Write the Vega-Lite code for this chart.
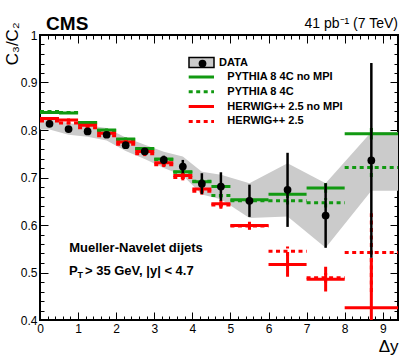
{
  "$schema": "https://vega.github.io/schema/vega-lite/v6.json",
  "width": 358,
  "height": 285,
  "autosize": {"type": "none"},
  "padding": {"left": 40, "top": 35, "right": 9, "bottom": 36},
  "background": "white",
  "datasets": {
    "band": [
      {"x": 0, "lo": 0.801, "hi": 0.825},
      {"x": 0.25, "lo": 0.801, "hi": 0.825},
      {"x": 0.75, "lo": 0.790, "hi": 0.814},
      {"x": 1.25, "lo": 0.786, "hi": 0.810},
      {"x": 1.75, "lo": 0.778, "hi": 0.804},
      {"x": 2.25, "lo": 0.756, "hi": 0.784},
      {"x": 2.75, "lo": 0.739, "hi": 0.769},
      {"x": 3.25, "lo": 0.720, "hi": 0.754},
      {"x": 3.75, "lo": 0.704, "hi": 0.744},
      {"x": 4.25, "lo": 0.664, "hi": 0.712},
      {"x": 4.75, "lo": 0.654, "hi": 0.706},
      {"x": 5.5, "lo": 0.615, "hi": 0.688},
      {"x": 6.5, "lo": 0.618, "hi": 0.730},
      {"x": 7.5, "lo": 0.552, "hi": 0.688},
      {"x": 8.7, "lo": 0.672, "hi": 0.796},
      {"x": 9.4, "lo": 0.672, "hi": 0.796}
    ],
    "data": [
      {"x": 0.25, "y": 0.813, "lo": 0.809, "hi": 0.817},
      {"x": 0.75, "y": 0.802, "lo": 0.798, "hi": 0.806},
      {"x": 1.25, "y": 0.797, "lo": 0.793, "hi": 0.801},
      {"x": 1.75, "y": 0.790, "lo": 0.786, "hi": 0.794},
      {"x": 2.25, "y": 0.768, "lo": 0.763, "hi": 0.773},
      {"x": 2.75, "y": 0.755, "lo": 0.749, "hi": 0.761},
      {"x": 3.25, "y": 0.737, "lo": 0.728, "hi": 0.746},
      {"x": 3.75, "y": 0.723, "lo": 0.709, "hi": 0.737},
      {"x": 4.25, "y": 0.687, "lo": 0.665, "hi": 0.709},
      {"x": 4.75, "y": 0.681, "lo": 0.651, "hi": 0.711},
      {"x": 5.5, "y": 0.651, "lo": 0.617, "hi": 0.685},
      {"x": 6.5, "y": 0.674, "lo": 0.596, "hi": 0.752},
      {"x": 7.5, "y": 0.620, "lo": 0.552, "hi": 0.688},
      {"x": 8.7, "y": 0.736, "lo": 0.531, "hi": 0.941}
    ],
    "mc": [
      {"s": "PYTHIA 8 4C no MPI", "a": 0, "b": 0.5, "c": 0.25, "v": 0.837, "lo": 0.835, "hi": 0.839},
      {"s": "PYTHIA 8 4C no MPI", "a": 0.5, "b": 1, "c": 0.75, "v": 0.836, "lo": 0.834, "hi": 0.838},
      {"s": "PYTHIA 8 4C no MPI", "a": 1, "b": 1.5, "c": 1.25, "v": 0.816, "lo": 0.814, "hi": 0.818},
      {"s": "PYTHIA 8 4C no MPI", "a": 1.5, "b": 2, "c": 1.75, "v": 0.800, "lo": 0.797, "hi": 0.803},
      {"s": "PYTHIA 8 4C no MPI", "a": 2, "b": 2.5, "c": 2.25, "v": 0.781, "lo": 0.778, "hi": 0.784},
      {"s": "PYTHIA 8 4C no MPI", "a": 2.5, "b": 3, "c": 2.75, "v": 0.761, "lo": 0.758, "hi": 0.764},
      {"s": "PYTHIA 8 4C no MPI", "a": 3, "b": 3.5, "c": 3.25, "v": 0.739, "lo": 0.735, "hi": 0.743},
      {"s": "PYTHIA 8 4C no MPI", "a": 3.5, "b": 4, "c": 3.75, "v": 0.712, "lo": 0.708, "hi": 0.716},
      {"s": "PYTHIA 8 4C no MPI", "a": 4, "b": 4.5, "c": 4.25, "v": 0.691, "lo": 0.686, "hi": 0.696},
      {"s": "PYTHIA 8 4C no MPI", "a": 4.5, "b": 5, "c": 4.75, "v": 0.681, "lo": 0.675, "hi": 0.687},
      {"s": "PYTHIA 8 4C no MPI", "a": 5, "b": 6, "c": 5.5, "v": 0.653, "lo": 0.647, "hi": 0.659},
      {"s": "PYTHIA 8 4C no MPI", "a": 6, "b": 7, "c": 6.5, "v": 0.665, "lo": 0.657, "hi": 0.673},
      {"s": "PYTHIA 8 4C no MPI", "a": 7, "b": 8, "c": 7.5, "v": 0.678, "lo": 0.668, "hi": 0.688},
      {"s": "PYTHIA 8 4C no MPI", "a": 8, "b": 9.4, "c": 8.7, "v": 0.792, "lo": 0.780, "hi": 0.804},
      {"s": "PYTHIA 8 4C", "a": 0, "b": 0.5, "c": 0.25, "v": 0.839, "lo": 0.837, "hi": 0.841},
      {"s": "PYTHIA 8 4C", "a": 0.5, "b": 1, "c": 0.75, "v": 0.837, "lo": 0.835, "hi": 0.839},
      {"s": "PYTHIA 8 4C", "a": 1, "b": 1.5, "c": 1.25, "v": 0.815, "lo": 0.813, "hi": 0.817},
      {"s": "PYTHIA 8 4C", "a": 1.5, "b": 2, "c": 1.75, "v": 0.799, "lo": 0.796, "hi": 0.802},
      {"s": "PYTHIA 8 4C", "a": 2, "b": 2.5, "c": 2.25, "v": 0.780, "lo": 0.777, "hi": 0.783},
      {"s": "PYTHIA 8 4C", "a": 2.5, "b": 3, "c": 2.75, "v": 0.760, "lo": 0.757, "hi": 0.763},
      {"s": "PYTHIA 8 4C", "a": 3, "b": 3.5, "c": 3.25, "v": 0.738, "lo": 0.734, "hi": 0.742},
      {"s": "PYTHIA 8 4C", "a": 3.5, "b": 4, "c": 3.75, "v": 0.711, "lo": 0.707, "hi": 0.715},
      {"s": "PYTHIA 8 4C", "a": 4, "b": 4.5, "c": 4.25, "v": 0.692, "lo": 0.687, "hi": 0.697},
      {"s": "PYTHIA 8 4C", "a": 4.5, "b": 5, "c": 4.75, "v": 0.662, "lo": 0.656, "hi": 0.668},
      {"s": "PYTHIA 8 4C", "a": 5, "b": 6, "c": 5.5, "v": 0.651, "lo": 0.645, "hi": 0.657},
      {"s": "PYTHIA 8 4C", "a": 6, "b": 7, "c": 6.5, "v": 0.651, "lo": 0.643, "hi": 0.659},
      {"s": "PYTHIA 8 4C", "a": 7, "b": 8, "c": 7.5, "v": 0.647, "lo": 0.637, "hi": 0.657},
      {"s": "PYTHIA 8 4C", "a": 8, "b": 9.4, "c": 8.7, "v": 0.721, "lo": 0.701, "hi": 0.741},
      {"s": "HERWIG++ 2.5 no MPI", "a": 0, "b": 0.5, "c": 0.25, "v": 0.824, "lo": 0.821, "hi": 0.827},
      {"s": "HERWIG++ 2.5 no MPI", "a": 0.5, "b": 1, "c": 0.75, "v": 0.821, "lo": 0.818, "hi": 0.824},
      {"s": "HERWIG++ 2.5 no MPI", "a": 1, "b": 1.5, "c": 1.25, "v": 0.810, "lo": 0.807, "hi": 0.813},
      {"s": "HERWIG++ 2.5 no MPI", "a": 1.5, "b": 2, "c": 1.75, "v": 0.793, "lo": 0.789, "hi": 0.797},
      {"s": "HERWIG++ 2.5 no MPI", "a": 2, "b": 2.5, "c": 2.25, "v": 0.775, "lo": 0.771, "hi": 0.779},
      {"s": "HERWIG++ 2.5 no MPI", "a": 2.5, "b": 3, "c": 2.75, "v": 0.755, "lo": 0.750, "hi": 0.760},
      {"s": "HERWIG++ 2.5 no MPI", "a": 3, "b": 3.5, "c": 3.25, "v": 0.731, "lo": 0.726, "hi": 0.736},
      {"s": "HERWIG++ 2.5 no MPI", "a": 3.5, "b": 4, "c": 3.75, "v": 0.704, "lo": 0.698, "hi": 0.710},
      {"s": "HERWIG++ 2.5 no MPI", "a": 4, "b": 4.5, "c": 4.25, "v": 0.676, "lo": 0.669, "hi": 0.683},
      {"s": "HERWIG++ 2.5 no MPI", "a": 4.5, "b": 5, "c": 4.75, "v": 0.645, "lo": 0.637, "hi": 0.653},
      {"s": "HERWIG++ 2.5 no MPI", "a": 5, "b": 6, "c": 5.5, "v": 0.599, "lo": 0.591, "hi": 0.607},
      {"s": "HERWIG++ 2.5 no MPI", "a": 6, "b": 7, "c": 6.5, "v": 0.517, "lo": 0.491, "hi": 0.543},
      {"s": "HERWIG++ 2.5 no MPI", "a": 7, "b": 8, "c": 7.5, "v": 0.486, "lo": 0.460, "hi": 0.512},
      {"s": "HERWIG++ 2.5 no MPI", "a": 8, "b": 9.4, "c": 8.7, "v": 0.426, "lo": 0.321, "hi": 0.531},
      {"s": "HERWIG++ 2.5", "a": 0, "b": 0.5, "c": 0.25, "v": 0.819, "lo": 0.816, "hi": 0.822},
      {"s": "HERWIG++ 2.5", "a": 0.5, "b": 1, "c": 0.75, "v": 0.815, "lo": 0.812, "hi": 0.818},
      {"s": "HERWIG++ 2.5", "a": 1, "b": 1.5, "c": 1.25, "v": 0.805, "lo": 0.802, "hi": 0.808},
      {"s": "HERWIG++ 2.5", "a": 1.5, "b": 2, "c": 1.75, "v": 0.788, "lo": 0.784, "hi": 0.792},
      {"s": "HERWIG++ 2.5", "a": 2, "b": 2.5, "c": 2.25, "v": 0.770, "lo": 0.766, "hi": 0.774},
      {"s": "HERWIG++ 2.5", "a": 2.5, "b": 3, "c": 2.75, "v": 0.750, "lo": 0.745, "hi": 0.755},
      {"s": "HERWIG++ 2.5", "a": 3, "b": 3.5, "c": 3.25, "v": 0.727, "lo": 0.722, "hi": 0.732},
      {"s": "HERWIG++ 2.5", "a": 3.5, "b": 4, "c": 3.75, "v": 0.700, "lo": 0.694, "hi": 0.706},
      {"s": "HERWIG++ 2.5", "a": 4, "b": 4.5, "c": 4.25, "v": 0.671, "lo": 0.664, "hi": 0.678},
      {"s": "HERWIG++ 2.5", "a": 4.5, "b": 5, "c": 4.75, "v": 0.642, "lo": 0.634, "hi": 0.650},
      {"s": "HERWIG++ 2.5", "a": 5, "b": 6, "c": 5.5, "v": 0.598, "lo": 0.590, "hi": 0.606},
      {"s": "HERWIG++ 2.5", "a": 6, "b": 7, "c": 6.5, "v": 0.545, "lo": 0.535, "hi": 0.555},
      {"s": "HERWIG++ 2.5", "a": 7, "b": 8, "c": 7.5, "v": 0.489, "lo": 0.479, "hi": 0.499},
      {"s": "HERWIG++ 2.5", "a": 8, "b": 9.4, "c": 8.7, "v": 0.542, "lo": 0.459, "hi": 0.625}
    ]
  },
  "resolve": {"axis": {"x": "independent", "y": "independent"}},
  "layer": [
    {
      "data": {"name": "band"},
      "mark": {"type": "area", "fill": "#cbcbcb"},
      "encoding": {
        "x": {
          "field": "x", "type": "quantitative",
          "scale": {"domain": [0, 9.4], "nice": false, "zero": false},
          "axis": {
            "orient": "bottom",
            "values": [0,0.2,0.4,0.6,0.8,1,1.2,1.4,1.6,1.8,2,2.2,2.4,2.6,2.8,3,3.2,3.4,3.6,3.8,4,4.2,4.4,4.6,4.8,5,5.2,5.4,5.6,5.8,6,6.2,6.4,6.6,6.8,7,7.2,7.4,7.6,7.8,8,8.2,8.4,8.6,8.8,9,9.2],
            "domain": false, "grid": false,
            "tickColor": "black", "tickWidth": 1,
            "tickSize": {"condition": {"test": "abs(datum.value-round(datum.value))<1e-6", "value": -8}, "value": -4},
            "labelExpr": "abs(datum.value-round(datum.value))<1e-6 ? format(datum.value,'d') : ''",
            "labelFont": "Liberation Sans", "labelFontSize": 12, "labelColor": "black",
            "labelPadding": 11, "labelOverlap": false, "labelFlush": false, "labelBaseline": "top",
            "title": "Δy", "titleFont": "Liberation Sans", "titleFontSize": 17, "titleFontWeight": "normal",
            "titleColor": "black", "titleAlign": "right", "titleX": 358, "titleY": 31, "titleBaseline": "alphabetic"
          }
        },
        "y": {
          "field": "lo", "type": "quantitative",
          "scale": {"domain": [0.4, 1], "nice": false, "zero": false},
          "axis": {
            "orient": "left",
            "values": [0.4,0.42,0.44,0.46,0.48,0.5,0.52,0.54,0.56,0.58,0.6,0.62,0.64,0.66,0.68,0.7,0.72,0.74,0.76,0.78,0.8,0.82,0.84,0.86,0.88,0.9,0.92,0.94,0.96,0.98,1],
            "domain": false, "grid": false,
            "tickColor": "black", "tickWidth": 1,
            "tickSize": {"condition": {"test": "abs(datum.value*10-round(datum.value*10))<1e-6", "value": -8}, "value": -4},
            "labelExpr": "abs(datum.value*10-round(datum.value*10))<1e-6 ? format(datum.value,'~g') : ''",
            "labelFont": "Liberation Sans", "labelFontSize": 12, "labelColor": "black",
            "labelPadding": 11, "labelOverlap": false, "labelFlush": false,
            "title": "C₃/C₂", "titleFont": "Liberation Sans", "titleFontSize": 17, "titleFontWeight": "normal",
            "titleColor": "black", "titleAngle": -90, "titleAlign": "right", "titleBaseline": "middle",
            "titleX": -28, "titleY": -13
          }
        },
        "y2": {"field": "hi"},
        "fill": {
          "datum": "DATA",
          "scale": {"range": ["#cbcbcb"]},
          "legend": {
            "orient": "none", "legendX": 148, "legendY": 14, "title": null, "padding": 0,
            "symbolType": "M-1,-0.4H1V0.4H-1Z", "symbolSize": 625,
            "symbolStrokeColor": "black", "symbolStrokeWidth": 1.5, "symbolFillColor": "#cbcbcb",
            "labelFont": "Liberation Sans", "labelFontWeight": "bold", "labelFontSize": 11,
            "labelColor": "black", "labelOffset": 4
          }
        }
      }
    },
    {
      "data": {"name": "mc"},
      "mark": {"type": "rule", "strokeWidth": 3, "strokeCap": "butt", "clip": true},
      "encoding": {
        "x": {"field": "a", "type": "quantitative", "axis": null},
        "x2": {"field": "b"},
        "y": {"field": "v", "type": "quantitative", "axis": null},
        "color": {
          "field": "s", "type": "nominal",
          "scale": {"domain": ["PYTHIA 8 4C no MPI", "PYTHIA 8 4C", "HERWIG++ 2.5 no MPI", "HERWIG++ 2.5"], "range": ["#119911", "#119911", "#ff0000", "#ff0000"]},
          "legend": {
            "orient": "none", "legendX": 148, "legendY": 36.5, "title": null, "padding": 0,
            "symbolType": "M-4,0H4", "symbolSize": 40, "symbolStrokeWidth": 3, "symbolOffset": 7.85,
            "labelFont": "Liberation Sans", "labelFontWeight": "bold", "labelFontSize": 11,
            "labelColor": "black", "labelOffset": 20.5, "rowPadding": 1.8
          }
        },
        "strokeDash": {
          "field": "s", "type": "nominal",
          "scale": {"domain": ["PYTHIA 8 4C no MPI", "PYTHIA 8 4C", "HERWIG++ 2.5 no MPI", "HERWIG++ 2.5"], "range": [[1, 0], [4, 3.5], [1, 0], [4, 3.5]]},
          "legend": {
            "orient": "none", "legendX": 148, "legendY": 36.5, "title": null, "padding": 0,
            "symbolType": "M-4,0H4", "symbolSize": 40, "symbolStrokeWidth": 3, "symbolOffset": 7.85,
            "labelFont": "Liberation Sans", "labelFontWeight": "bold", "labelFontSize": 11,
            "labelColor": "black", "labelOffset": 20.5, "rowPadding": 1.8
          }
        }
      }
    },
    {
      "data": {"name": "mc"},
      "mark": {"type": "rule", "strokeWidth": 3, "strokeCap": "butt", "clip": true},
      "encoding": {
        "x": {"field": "c", "type": "quantitative", "axis": null},
        "y": {"field": "lo", "type": "quantitative", "axis": null},
        "y2": {"field": "hi"},
        "color": {"field": "s", "type": "nominal"},
        "strokeDash": {"field": "s", "type": "nominal"}
      }
    },
    {
      "data": {"name": "data"},
      "mark": {"type": "rule", "strokeWidth": 2.5, "color": "black", "clip": true},
      "encoding": {
        "x": {"field": "x", "type": "quantitative", "axis": null},
        "y": {"field": "lo", "type": "quantitative", "axis": null},
        "y2": {"field": "hi"}
      }
    },
    {
      "data": {"name": "data"},
      "mark": {"type": "point", "filled": true, "color": "black", "size": 60, "opacity": 1},
      "encoding": {
        "x": {
          "field": "x", "type": "quantitative",
          "axis": {
            "orient": "top",
            "values": [0,0.2,0.4,0.6,0.8,1,1.2,1.4,1.6,1.8,2,2.2,2.4,2.6,2.8,3,3.2,3.4,3.6,3.8,4,4.2,4.4,4.6,4.8,5,5.2,5.4,5.6,5.8,6,6.2,6.4,6.6,6.8,7,7.2,7.4,7.6,7.8,8,8.2,8.4,8.6,8.8,9,9.2],
            "domain": false, "grid": false, "labels": false, "title": null,
            "tickColor": "black", "tickWidth": 1,
            "tickSize": {"condition": {"test": "abs(datum.value-round(datum.value))<1e-6", "value": -8}, "value": -4}
          }
        },
        "y": {
          "field": "y", "type": "quantitative",
          "axis": {
            "orient": "right",
            "values": [0.4,0.42,0.44,0.46,0.48,0.5,0.52,0.54,0.56,0.58,0.6,0.62,0.64,0.66,0.68,0.7,0.72,0.74,0.76,0.78,0.8,0.82,0.84,0.86,0.88,0.9,0.92,0.94,0.96,0.98,1],
            "domain": false, "grid": false, "labels": false, "title": null,
            "tickColor": "black", "tickWidth": 1,
            "tickSize": {"condition": {"test": "abs(datum.value*10-round(datum.value*10))<1e-6", "value": -8}, "value": -4}
          }
        },
        "shape": {
          "datum": " ",
          "scale": {"range": ["circle"]},
          "legend": {
            "orient": "none", "legendX": 157, "legendY": 23, "title": null, "padding": 0,
            "symbolSize": 60, "symbolFillColor": "black", "symbolStrokeColor": "black", "symbolStrokeWidth": 0,
            "labelExpr": "''", "labelFontSize": 11
          }
        }
      }
    },
    {
      "data": {"values": [{}]},
      "mark": {"type": "text", "text": "CMS", "font": "Liberation Sans", "fontWeight": "bold", "fontSize": 19, "align": "left", "baseline": "alphabetic", "dy": -5, "color": "black"},
      "encoding": {"x": {"datum": 0.16, "type": "quantitative", "axis": null}, "y": {"datum": 1, "type": "quantitative", "axis": null}}
    },
    {
      "data": {"values": [{}]},
      "mark": {"type": "text", "text": "41 pb⁻¹ (7 TeV)", "font": "Liberation Sans", "fontSize": 14, "align": "right", "baseline": "alphabetic", "dy": -7, "color": "black"},
      "encoding": {"x": {"datum": 9.4, "type": "quantitative", "axis": null}, "y": {"datum": 1, "type": "quantitative", "axis": null}}
    },
    {
      "data": {"values": [{}]},
      "mark": {"type": "text", "text": "Mueller-Navelet dijets", "font": "Liberation Sans", "fontWeight": "bold", "fontSize": 13, "align": "center", "baseline": "alphabetic", "color": "black"},
      "encoding": {"x": {"datum": 2.52, "type": "quantitative", "axis": null}, "y": {"datum": 0.543, "type": "quantitative", "axis": null}}
    },
    {
      "data": {"values": [{}]},
      "mark": {"type": "text", "text": "P", "font": "Liberation Sans", "fontWeight": "bold", "fontSize": 13, "align": "left", "baseline": "alphabetic", "color": "black"},
      "encoding": {"x": {"datum": 0.76, "type": "quantitative", "axis": null}, "y": {"datum": 0.495, "type": "quantitative", "axis": null}}
    },
    {
      "data": {"values": [{}]},
      "mark": {"type": "text", "text": "T", "font": "Liberation Sans", "fontWeight": "bold", "fontSize": 9, "align": "left", "baseline": "alphabetic", "dx": 8.5, "dy": 3, "color": "black"},
      "encoding": {"x": {"datum": 0.76, "type": "quantitative", "axis": null}, "y": {"datum": 0.495, "type": "quantitative", "axis": null}}
    },
    {
      "data": {"values": [{}]},
      "mark": {"type": "text", "text": "> 35 GeV, |y| < 4.7", "font": "Liberation Sans", "fontWeight": "bold", "fontSize": 13, "align": "left", "baseline": "alphabetic", "dx": 16, "color": "black"},
      "encoding": {"x": {"datum": 0.76, "type": "quantitative", "axis": null}, "y": {"datum": 0.495, "type": "quantitative", "axis": null}}
    }
  ],
  "config": {
    "view": {"stroke": "black", "strokeWidth": 2},
    "font": "Liberation Sans"
  }
}
